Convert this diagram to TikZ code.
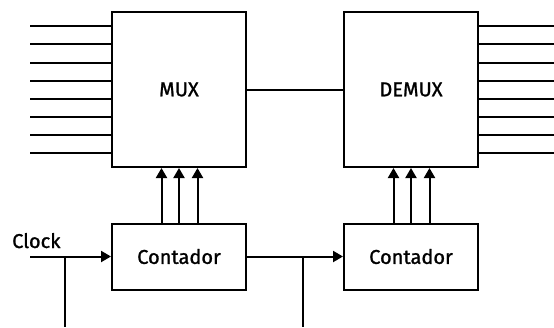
\documentclass[tikz,border=0pt]{standalone}
\usepackage{fontspec}
\setmainfont{Fira Sans}
\newfontfamily\lblfont[FakeBold=1.2]{Fira Sans}
\usetikzlibrary{arrows.meta}
\begin{document}
\begin{tikzpicture}[x=1pt,y=-1pt,
  wire/.style={line width=2pt},
  arr/.style={line width=2pt,-{Triangle[length=10pt,width=11pt]}},
  blockbox/.style={draw,line width=2pt,inner sep=0pt,font=\lblfont\fontsize{20}{24}\selectfont},
  lbl/.style={inner sep=0pt,font=\lblfont\fontsize{20}{24}\selectfont}]
\useasboundingbox (0,0) rectangle (554,327);
\node[blockbox,minimum width=134pt,minimum height=155pt] (mux) at (179,89.5) {MUX};
\node[blockbox,minimum width=134pt,minimum height=155pt] (demux) at (411,89.5) {DEMUX};
\node[blockbox,minimum width=134pt,minimum height=66pt] (c1) at (179,256.5) {Contador};
\node[blockbox,minimum width=134pt,minimum height=66pt] (c2) at (411,256.5) {Contador};
% input / output lines
\foreach \i in {0,...,7}{
  \coordinate (in\i) at (30,{26.3+18.1*\i});
  \coordinate (out\i) at (554,{26.3+18.1*\i});
  \draw[wire] (in\i) -- (in\i -| mux.west);
  \draw[wire] (out\i) -- (out\i -| demux.east);
}
\draw[wire] (mux.east) -- (demux.west);
% arrows from counters
\foreach \dx in {-17.5,0,18.5}{
  \draw[arr] ([xshift=\dx pt]c1.north) -- ([xshift=\dx pt]mux.south);
  \draw[arr] ([xshift=\dx pt]c2.north) -- ([xshift=\dx pt]demux.south);
}
% clock
\node[lbl,anchor=base west] (clk) at (12,248) {Clock};
\coordinate (clkin) at (30,256.5);
\draw[arr] (clkin) -- (c1.west);
\draw[arr] (c1.east) -- (c2.west);
\coordinate (j1) at (65,256.5);
\coordinate (j1b) at (65,327);
\coordinate (j2) at (302.5,256.5);
\coordinate (j2b) at (302.5,327);
\draw[wire] (j1) -- (j1b);
\draw[wire] (j2) -- (j2b);
\end{tikzpicture}
\end{document}
